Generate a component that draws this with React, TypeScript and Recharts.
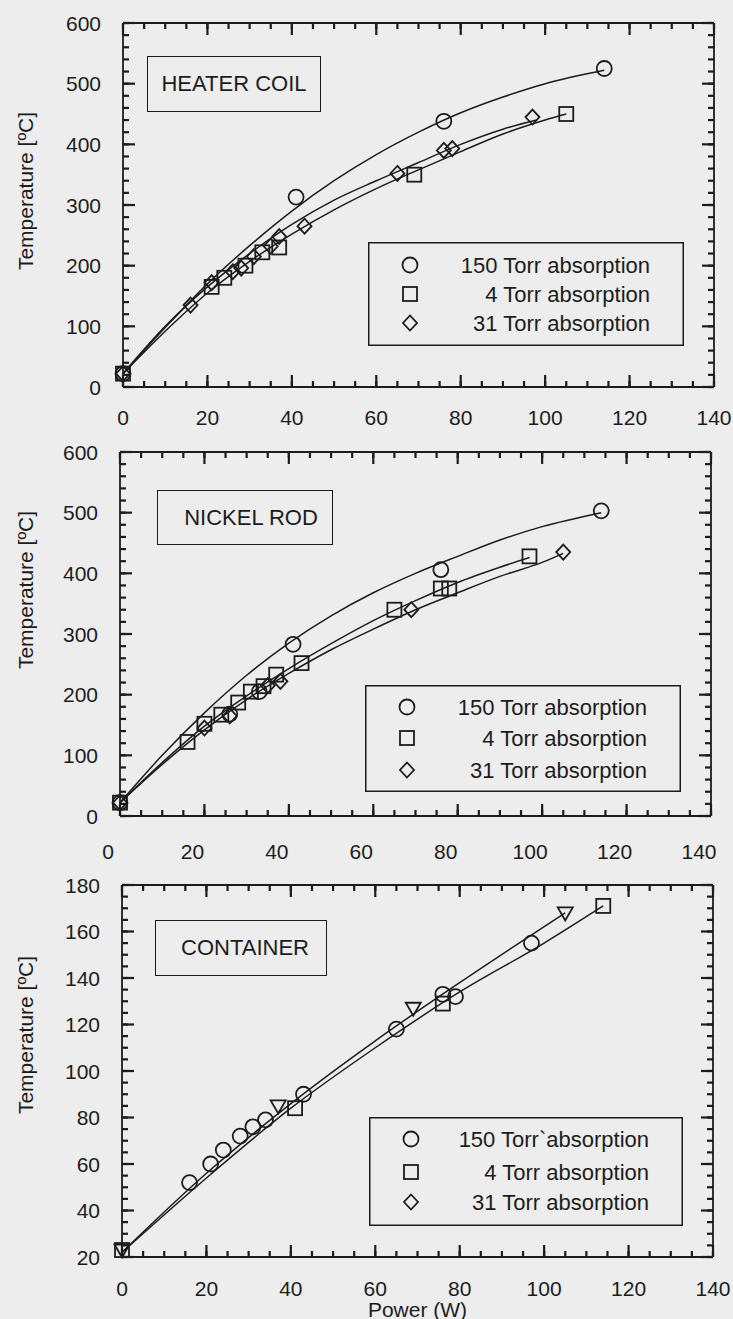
import React from 'react';
import { ComposedChart, Line, Scatter, XAxis, YAxis, Legend } from 'recharts';

const INK = '#1c1c1c';
const PAPER = '#ededed';
const FONT = '"Liberation Sans", Arial, Helvetica, sans-serif';

// tick values (major ones get labels)
const POWER_TICKS = [0, 5, 10, 15, 20, 25, 30, 35, 40, 45, 50, 55, 60, 65, 70, 75, 80, 85, 90, 95, 100, 105, 110, 115, 120, 125, 130, 135, 140];
const TEMP_TICKS = [0, 20, 40, 60, 80, 100, 120, 140, 160, 180, 200, 220, 240, 260, 280, 300, 320, 340, 360, 380, 400, 420, 440, 460, 480, 500, 520, 540, 560, 580, 600];
const CONTAINER_TICKS = [20, 25, 30, 35, 40, 45, 50, 55, 60, 65, 70, 75, 80, 85, 90, 95, 100, 105, 110, 115, 120, 125, 130, 135, 140, 145, 150, 155, 160, 165, 170, 175, 180];

const SERIES_NAMES = ['150 Torr absorption', '4 Torr absorption', '31 Torr absorption'];
const CONTAINER_NAMES = ['150 Torr`absorption', '4 Torr absorption', '31 Torr absorption'];

type Pt = { x: number; y: number };

// HEATER COIL
const HEATER_150: Pt[] = [{ x: 0, y: 22 }, { x: 41, y: 313 }, { x: 76, y: 438 }, { x: 114, y: 525 }];
const HEATER_4: Pt[] = [{ x: 0, y: 22 }, { x: 21, y: 165 }, { x: 24, y: 180 }, { x: 29, y: 200 }, { x: 33, y: 222 }, { x: 37, y: 230 }, { x: 69, y: 350 }, { x: 105, y: 450 }];
const HEATER_31: Pt[] = [{ x: 0, y: 22 }, { x: 16, y: 135 }, { x: 21, y: 172 }, { x: 26, y: 190 }, { x: 28, y: 196 }, { x: 31, y: 215 }, { x: 35, y: 232 }, { x: 37, y: 248 }, { x: 43, y: 265 }, { x: 65, y: 352 }, { x: 76, y: 390 }, { x: 78, y: 393 }, { x: 97, y: 445 }];
const HEATER_FIT_150: Pt[] = [{ x: 0, y: 22 }, { x: 10, y: 98 }, { x: 20, y: 170 }, { x: 30, y: 233 }, { x: 40, y: 290 }, { x: 50, y: 340 }, { x: 60, y: 383 }, { x: 70, y: 420 }, { x: 80, y: 452 }, { x: 90, y: 478 }, { x: 100, y: 500 }, { x: 114, y: 522 }];
const HEATER_FIT_4: Pt[] = [{ x: 0, y: 22 }, { x: 10, y: 92 }, { x: 20, y: 155 }, { x: 30, y: 207 }, { x: 40, y: 252 }, { x: 50, y: 292 }, { x: 60, y: 327 }, { x: 70, y: 358 }, { x: 80, y: 388 }, { x: 90, y: 417 }, { x: 100, y: 440 }, { x: 105, y: 450 }];
const HEATER_FIT_31: Pt[] = [{ x: 0, y: 22 }, { x: 10, y: 100 }, { x: 20, y: 165 }, { x: 30, y: 220 }, { x: 40, y: 268 }, { x: 50, y: 308 }, { x: 60, y: 340 }, { x: 70, y: 370 }, { x: 80, y: 400 }, { x: 90, y: 425 }, { x: 98, y: 440 }];

// NICKEL ROD
const NICKEL_150: Pt[] = [{ x: 0, y: 22 }, { x: 26, y: 168 }, { x: 33, y: 205 }, { x: 41, y: 283 }, { x: 76, y: 406 }, { x: 114, y: 503 }];
const NICKEL_4: Pt[] = [{ x: 0, y: 22 }, { x: 16, y: 122 }, { x: 20, y: 152 }, { x: 24, y: 167 }, { x: 28, y: 187 }, { x: 31, y: 205 }, { x: 34, y: 214 }, { x: 37, y: 233 }, { x: 43, y: 252 }, { x: 65, y: 340 }, { x: 76, y: 375 }, { x: 78, y: 375 }, { x: 97, y: 428 }];
const NICKEL_31: Pt[] = [{ x: 0, y: 22 }, { x: 20, y: 145 }, { x: 26, y: 165 }, { x: 35, y: 215 }, { x: 38, y: 222 }, { x: 69, y: 340 }, { x: 105, y: 435 }];
const NICKEL_FIT_150: Pt[] = [{ x: 0, y: 22 }, { x: 10, y: 100 }, { x: 20, y: 170 }, { x: 30, y: 232 }, { x: 40, y: 285 }, { x: 50, y: 330 }, { x: 60, y: 368 }, { x: 70, y: 400 }, { x: 80, y: 428 }, { x: 90, y: 455 }, { x: 100, y: 477 }, { x: 114, y: 500 }];
const NICKEL_FIT_4: Pt[] = [{ x: 0, y: 22 }, { x: 10, y: 88 }, { x: 20, y: 148 }, { x: 30, y: 198 }, { x: 40, y: 243 }, { x: 50, y: 284 }, { x: 60, y: 322 }, { x: 70, y: 355 }, { x: 80, y: 385 }, { x: 90, y: 410 }, { x: 97, y: 426 }];
const NICKEL_FIT_31: Pt[] = [{ x: 0, y: 22 }, { x: 10, y: 85 }, { x: 20, y: 142 }, { x: 30, y: 192 }, { x: 40, y: 235 }, { x: 50, y: 274 }, { x: 60, y: 308 }, { x: 70, y: 340 }, { x: 80, y: 368 }, { x: 90, y: 395 }, { x: 100, y: 418 }, { x: 105, y: 433 }];

// CONTAINER
const CONTAINER_150: Pt[] = [{ x: 16, y: 52 }, { x: 21, y: 60 }, { x: 24, y: 66 }, { x: 28, y: 72 }, { x: 31, y: 76 }, { x: 34, y: 79 }, { x: 43, y: 90 }, { x: 65, y: 118 }, { x: 76, y: 133 }, { x: 79, y: 132 }, { x: 97, y: 155 }];
const CONTAINER_4: Pt[] = [{ x: 0, y: 23 }, { x: 41, y: 84 }, { x: 76, y: 129 }, { x: 114, y: 171 }];
const CONTAINER_31: Pt[] = [{ x: 0, y: 23 }, { x: 37, y: 85 }, { x: 69, y: 127 }, { x: 105, y: 168 }];
const CONTAINER_FIT_UPPER: Pt[] = [{ x: 0, y: 22 }, { x: 20, y: 56 }, { x: 40, y: 86 }, { x: 60, y: 113 }, { x: 80, y: 138 }, { x: 105, y: 168 }];
const CONTAINER_FIT_LOWER: Pt[] = [{ x: 0, y: 22 }, { x: 20, y: 54 }, { x: 40, y: 84 }, { x: 60, y: 110 }, { x: 80, y: 134 }, { x: 100, y: 155 }, { x: 114, y: 171 }];

type Kind = 'circle' | 'square' | 'diamond' | 'triangle';

const Marker = ({ cx, cy, kind }: { cx: number; cy: number; kind: Kind }) => {
  const s = { fill: 'none', stroke: INK, strokeWidth: 1.8 };
  if (kind === 'circle') return <circle cx={cx} cy={cy} r={7.5} {...s} />;
  if (kind === 'square') return <rect x={cx - 7} y={cy - 7} width={14} height={14} {...s} />;
  if (kind === 'diamond') return <polygon points={`${cx},${cy - 7.5} ${cx + 7},${cy} ${cx},${cy + 7.5} ${cx - 7},${cy}`} {...s} />;
  return <polygon points={`${cx - 7.5},${cy - 5.5} ${cx + 7.5},${cy - 5.5} ${cx},${cy + 7.5}`} {...s} />;
};

// built-in tick lines point inward (negative tickSize) and give the short ticks;
// the custom tick adds the longer major ticks and the labels
const INSET = 6;
const MAJOR_LEN = 12;
const tickLineStyle = { stroke: INK, strokeWidth: 2.2 };

const BottomTick = (props: any) => {
  const { x, y, payload, major, dx, dy } = props;
  const axisY = y + INSET;
  const isMajor = payload.value % major === 0;
  return (
    <g>
      {isMajor && <line x1={x} x2={x} y1={axisY} y2={axisY - MAJOR_LEN} stroke={INK} strokeWidth={2.2} />}
      {isMajor && (
        <text x={x + dx} y={axisY + dy} textAnchor="middle" dominantBaseline="central" fontSize={21} fontFamily={FONT} fill={INK} stroke="none">
          {payload.value}
        </text>
      )}
    </g>
  );
};

const TopTick = (props: any) => {
  const { x, y, payload, major } = props;
  const axisY = y - INSET;
  if (payload.value % major !== 0) return <g />;
  return <line x1={x} x2={x} y1={axisY} y2={axisY + MAJOR_LEN} stroke={INK} strokeWidth={2.2} />;
};

const LeftTick = (props: any) => {
  const { x, y, payload, major } = props;
  const axisX = x - INSET;
  const isMajor = payload.value % major === 0;
  return (
    <g>
      {isMajor && <line x1={axisX} x2={axisX + MAJOR_LEN} y1={y} y2={y} stroke={INK} strokeWidth={2.2} />}
      {isMajor && (
        <text x={axisX - 22} y={y} textAnchor="end" dominantBaseline="central" fontSize={21} fontFamily={FONT} fill={INK} stroke="none">
          {payload.value}
        </text>
      )}
    </g>
  );
};

const RightTick = (props: any) => {
  const { x, y, payload, major } = props;
  const axisX = x + INSET;
  if (payload.value % major !== 0) return <g />;
  return <line x1={axisX} x2={axisX - MAJOR_LEN} y1={y} y2={y} stroke={INK} strokeWidth={2.2} />;
};

type SeriesDef = { name: string; points: Pt[]; kind: Kind; legendKind: Kind };
type Box = { left: number; top: number; width: number; height: number };

interface PanelProps {
  top: number;
  height: number;
  margin: { top: number; right: number; bottom: number; left: number };
  yAxisWidth: number;
  xAxisHeight: number;
  yDomain: [number, number];
  yTicks: number[];
  yMajor: number;
  xLabelDx: number;
  xLabelDy: number;
  yLabelShift: number;
  title: string;
  titleBox: Box;
  titleDx: number;
  legendBox: Box;
  legendRows: number[];
  series: SeriesDef[];
  fits: Pt[][];
  powerLabel?: boolean;
}

const BoxLegend = ({ box, rows, series }: { box: Box; rows: number[]; series: SeriesDef[] }) => (
  <svg width={box.width} height={box.height} style={{ display: 'block' }}>
    <rect x={0.75} y={0.75} width={box.width - 1.5} height={box.height - 1.5} fill="none" stroke={INK} strokeWidth={1.5} />
    {series.map((s, i) => (
      <g key={s.name}>
        <Marker cx={42} cy={rows[i]} kind={s.legendKind} />
        <text x={box.width - 34} y={rows[i]} textAnchor="end" dominantBaseline="central" fontSize={22} fontFamily={FONT} fill={INK}>
          {s.name}
        </text>
      </g>
    ))}
  </svg>
);

const Panel: React.FC<PanelProps> = (p) => {
  const yLabel = (props: any) => {
    const vb = props.viewBox;
    const x = vb.x + 25;
    const y = vb.y + vb.height / 2 - p.yLabelShift;
    return (
      <text x={x} y={y} transform={`rotate(-90 ${x} ${y})`} textAnchor="middle" dominantBaseline="central" fontSize={21} fontFamily={FONT} fill={INK}>
        Temperature [ºC]
      </text>
    );
  };
  const xLabel = (props: any) => {
    const vb = props.viewBox;
    return (
      <text x={vb.x + vb.width / 2} y={vb.y + 52} textAnchor="middle" dominantBaseline="central" fontSize={21} fontFamily={FONT} fill={INK}>
        Power (W)
      </text>
    );
  };
  const axisLine = { stroke: INK, strokeWidth: 1.8 };
  // the top and right axes are 1px thick so that they render; margins shrink by 1 to compensate
  const margin = { ...p.margin, top: p.margin.top - 1, right: p.margin.right - 1 };
  return (
    <div style={{ position: 'absolute', left: 0, top: p.top, width: 733, height: p.height }}>
      <ComposedChart width={733} height={p.height} margin={margin}>
        <XAxis
          xAxisId="b"
          type="number"
          dataKey="x"
          domain={[0, 140]}
          ticks={POWER_TICKS}
          interval={0}
          height={p.xAxisHeight}
          tickSize={-INSET}
          tickMargin={0}
          tickLine={tickLineStyle}
          axisLine={axisLine}
          tick={(t: any) => <BottomTick {...t} major={20} dx={p.xLabelDx} dy={p.xLabelDy} />}
          label={p.powerLabel ? xLabel : undefined}
        />
        <XAxis
          xAxisId="t"
          orientation="top"
          type="number"
          dataKey="x"
          domain={[0, 140]}
          ticks={POWER_TICKS}
          interval={0}
          height={1}
          tickSize={-INSET}
          tickMargin={0}
          tickLine={tickLineStyle}
          axisLine={axisLine}
          tick={(t: any) => <TopTick {...t} major={20} />}
        />
        <YAxis
          yAxisId="l"
          type="number"
          domain={p.yDomain}
          ticks={p.yTicks}
          interval={0}
          width={p.yAxisWidth}
          tickSize={-INSET}
          tickMargin={0}
          tickLine={tickLineStyle}
          axisLine={axisLine}
          tick={(t: any) => <LeftTick {...t} major={p.yMajor} />}
          label={yLabel}
        />
        <YAxis
          yAxisId="r"
          orientation="right"
          type="number"
          domain={p.yDomain}
          ticks={p.yTicks}
          interval={0}
          width={1}
          tickSize={-INSET}
          tickMargin={0}
          tickLine={tickLineStyle}
          axisLine={axisLine}
          tick={(t: any) => <RightTick {...t} major={p.yMajor} />}
        />
        {p.fits.map((f, i) => (
          <Line
            key={`fit-${i}`}
            xAxisId="b"
            yAxisId="l"
            data={f}
            dataKey="y"
            type="monotone"
            dot={false}
            activeDot={false}
            stroke={INK}
            strokeWidth={1.5}
            legendType="none"
            isAnimationActive={false}
          />
        ))}
        {p.series.map((s) => (
          <Scatter
            key={s.name}
            name={s.name}
            xAxisId="b"
            yAxisId="l"
            data={s.points}
            dataKey="y"
            shape={(sp: any) => <Marker cx={sp.cx} cy={sp.cy} kind={s.kind} />}
            isAnimationActive={false}
          />
        ))}
        {/* invisible anchor so the top/right frame axes get a scale */}
        <Scatter xAxisId="t" yAxisId="r" data={p.series[0].points} dataKey="y" shape={() => <g />} legendType="none" isAnimationActive={false} />
        <Legend
          layout="vertical"
          align="center"
          verticalAlign="middle"
          wrapperStyle={{ left: p.legendBox.left, top: p.legendBox.top, width: p.legendBox.width, height: p.legendBox.height }}
          content={() => <BoxLegend box={p.legendBox} rows={p.legendRows} series={p.series} />}
        />
      </ComposedChart>
      <div
        style={{
          position: 'absolute',
          left: p.titleBox.left,
          top: p.titleBox.top,
          width: p.titleBox.width,
          height: p.titleBox.height,
          boxSizing: 'border-box',
          border: `1.5px solid ${INK}`,
          display: 'flex',
          alignItems: 'center',
          justifyContent: 'center',
          fontFamily: FONT,
          fontSize: 22,
          color: INK,
          paddingLeft: p.titleDx * 2,
        }}
      >
        {p.title}
      </div>
    </div>
  );
};

export default function App() {
  return (
    <div style={{ position: 'absolute', left: 0, top: 0, width: 733, height: 1319, background: PAPER, overflow: 'hidden' }}>
      <Panel
        top={0}
        height={430}
        margin={{ top: 23, right: 19, bottom: 0, left: 0 }}
        yAxisWidth={123}
        xAxisHeight={43}
        yDomain={[0, 600]}
        yTicks={TEMP_TICKS}
        yMajor={100}
        xLabelDx={0}
        xLabelDy={30}
        yLabelShift={14}
        title="HEATER COIL"
        titleBox={{ left: 147, top: 56, width: 174, height: 56 }}
        titleDx={0}
        legendBox={{ left: 368, top: 242, width: 316, height: 104 }}
        legendRows={[23, 52, 81]}
        series={[
          { name: SERIES_NAMES[0], points: HEATER_150, kind: 'circle', legendKind: 'circle' },
          { name: SERIES_NAMES[1], points: HEATER_4, kind: 'square', legendKind: 'square' },
          { name: SERIES_NAMES[2], points: HEATER_31, kind: 'diamond', legendKind: 'diamond' },
        ]}
        fits={[HEATER_FIT_150, HEATER_FIT_4, HEATER_FIT_31]}
      />
      <Panel
        top={430}
        height={440}
        margin={{ top: 22, right: 22, bottom: 0, left: 0 }}
        yAxisWidth={120}
        xAxisHeight={54}
        yDomain={[0, 600]}
        yTicks={TEMP_TICKS}
        yMajor={100}
        xLabelDx={-12}
        xLabelDy={35}
        yLabelShift={44}
        title="NICKEL ROD"
        titleBox={{ left: 157, top: 60, width: 176, height: 55 }}
        titleDx={6}
        legendBox={{ left: 365, top: 255, width: 316, height: 107 }}
        legendRows={[22, 53, 85]}
        series={[
          { name: SERIES_NAMES[0], points: NICKEL_150, kind: 'circle', legendKind: 'circle' },
          { name: SERIES_NAMES[1], points: NICKEL_4, kind: 'square', legendKind: 'square' },
          { name: SERIES_NAMES[2], points: NICKEL_31, kind: 'diamond', legendKind: 'diamond' },
        ]}
        fits={[NICKEL_FIT_150, NICKEL_FIT_4, NICKEL_FIT_31]}
      />
      <Panel
        top={870}
        height={449}
        margin={{ top: 15, right: 20, bottom: 0, left: 0 }}
        yAxisWidth={122}
        xAxisHeight={62}
        yDomain={[20, 180]}
        yTicks={CONTAINER_TICKS}
        yMajor={20}
        xLabelDx={0}
        xLabelDy={31}
        yLabelShift={36}
        title="CONTAINER"
        titleBox={{ left: 155, top: 50, width: 172, height: 56 }}
        titleDx={4}
        legendBox={{ left: 369, top: 247, width: 314, height: 109 }}
        legendRows={[22, 55, 85]}
        series={[
          { name: CONTAINER_NAMES[0], points: CONTAINER_150, kind: 'circle', legendKind: 'circle' },
          { name: CONTAINER_NAMES[1], points: CONTAINER_4, kind: 'square', legendKind: 'square' },
          { name: CONTAINER_NAMES[2], points: CONTAINER_31, kind: 'triangle', legendKind: 'diamond' },
        ]}
        fits={[CONTAINER_FIT_UPPER, CONTAINER_FIT_LOWER]}
        powerLabel
      />
    </div>
  );
}
